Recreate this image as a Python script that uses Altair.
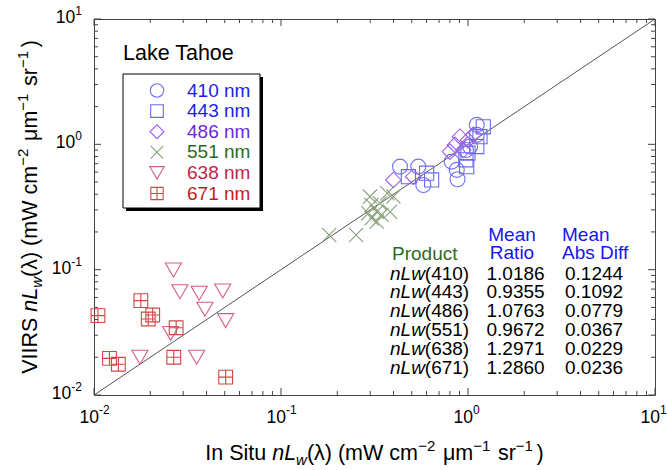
import altair as alt
import pandas as pd

# ---------------- data ----------------
bands = ["410 nm", "443 nm", "486 nm", "551 nm", "638 nm", "671 nm"]

x410 = [0.433, 0.542, 0.577, 0.818, 0.871, 0.879, 1.114, 1.114, 1.026, 0.975]
y410 = [0.664, 0.664, 0.474, 0.728, 0.625, 0.526, 1.43, 1.19, 0.96, 0.90]
x443 = [0.48, 0.601, 0.639, 0.984, 0.975, 1.207, 1.159, 1.114, 1.0]
y443 = [0.552, 0.588, 0.52, 0.664, 0.752, 1.38, 1.15, 0.96, 0.849]
x486 = [0.399, 0.509, 0.801, 0.852, 0.906, 1.0, 1.066, 0.944]
y486 = [0.52, 0.552, 0.875, 0.99, 1.15, 1.08, 1.19, 0.90]
x551 = [0.181, 0.252, 0.299, 0.305, 0.293, 0.305, 0.325, 0.338, 0.37, 0.383, 0.345, 0.399, 0.325]
y551 = [0.189, 0.189, 0.383, 0.328, 0.282, 0.257, 0.29, 0.339, 0.407, 0.29, 0.274, 0.383, 0.242]
x638 = [0.0266, 0.0288, 0.0365, 0.0488, 0.0392, 0.0506, 0.0257, 0.0176, 0.0354]
y638 = [0.0995, 0.0667, 0.0649, 0.0676, 0.0483, 0.0392, 0.031, 0.02, 0.02]
x671 = [0.0105, 0.0178, 0.0195, 0.0206, 0.0275, 0.0121, 0.0135, 0.0267, 0.0506]
y671 = [0.043, 0.0566, 0.0404, 0.0435, 0.0344, 0.0196, 0.0176, 0.02, 0.0139]

products = ["(410)", "(443)", "(486)", "(551)", "(638)", "(671)"]
ratios = ["1.0186", "0.9355", "1.0763", "0.9672", "1.2971", "1.2860"]
absdiffs = ["0.1244", "0.1092", "0.0779", "0.0367", "0.0229", "0.0236"]

major_ticks = [0.01, 0.1, 1, 10]
tick_exps = ["-2", "-1", "0", "1"]
minor_ticks = [m * d for d in [0.01, 0.1, 1] for m in range(2, 10)]

# ---------------- styles ----------------
FONT = "Liberation Sans"
W, H = 561, 376
OX, OY = 94, 19
marker_colors = ["#7070f2", "#6a6af0", "#9a60ee", "#86a07a", "#d65c84", "#d44646"]
text_colors = ["#1e1ee8", "#1e1ee8", "#6e26da", "#2e6a1e", "#c2224c", "#c21e1e"]
shapes = ["circle", "square", "diamond",
          "M-1,-1L1,1M-1,1L1,-1",
          "triangle-down",
          "M-1,-1H1V1H-1ZM0,-1V1M-1,0H1"]
sizes = [225, 200, 240, 200, 260, 190]

xs = alt.Scale(type="log", domain=[0.01, 10], nice=False)
ys = alt.Scale(type="log", domain=[0.01, 10], nice=False)

series = [(x410, y410), (x443, y443), (x486, y486), (x551, y551), (x638, y638), (x671, y671)]
layers = []

# 1:1 line
diag = pd.DataFrame({"x": [0.01, 10], "y": [0.01, 10]})
layers.append(alt.Chart(diag).mark_line(color="#555555", strokeWidth=1).encode(
    x=alt.X("x:Q", scale=xs, axis=None), y=alt.Y("y:Q", scale=ys, axis=None)))

# data points
for i, (xv, yv) in enumerate(series):
    df = pd.DataFrame({"x": xv, "y": yv})
    layers.append(alt.Chart(df).mark_point(
        shape=shapes[i], filled=False, size=sizes[i], strokeWidth=1.1,
        color=marker_colors[i], opacity=1).encode(
        x=alt.X("x:Q", scale=xs, axis=None), y=alt.Y("y:Q", scale=ys, axis=None)))

# inward ticks on all 4 sides
for vals, ln in [(major_ticks, 7), (minor_ticks, 4)]:
    tdf = pd.DataFrame({"v": vals})
    base = alt.Chart(tdf).mark_rule(color="#444444", strokeWidth=1)
    layers.append(base.encode(x=alt.X("v:Q", scale=xs, axis=None), y=alt.value(H), y2=alt.value(H - ln)))
    layers.append(base.encode(x=alt.X("v:Q", scale=xs, axis=None), y=alt.value(0), y2=alt.value(ln)))
    layers.append(base.encode(y=alt.Y("v:Q", scale=ys, axis=None), x=alt.value(0), x2=alt.value(ln)))
    layers.append(base.encode(y=alt.Y("v:Q", scale=ys, axis=None), x=alt.value(W), x2=alt.value(W - ln)))

# tick labels (10 with superscript exponent)
lab = pd.DataFrame({"v": major_ticks, "e": tick_exps, "neg": [True, True, False, False]})
layers.append(alt.Chart(lab).mark_text(font=FONT, fontSize=17.5, align="right", baseline="middle", dx=5, color="black").encode(
    x=alt.X("v:Q", scale=xs, axis=None), y=alt.value(H + 23), text=alt.value("10")))
layers.append(alt.Chart(lab).mark_text(font=FONT, fontSize=12, align="left", baseline="middle", dx=5, color="black").encode(
    x=alt.X("v:Q", scale=xs, axis=None), y=alt.value(H + 15), text="e:N"))
for neg, ew in [(True, 10.7), (False, 6.7)]:
    sub = lab[lab["neg"] == neg]
    layers.append(alt.Chart(sub).mark_text(font=FONT, fontSize=17.5, align="right", baseline="middle", dy=-1, color="black").encode(
        y=alt.Y("v:Q", scale=ys, axis=None), x=alt.value(-12 - ew), text=alt.value("10")))
    layers.append(alt.Chart(sub).mark_text(font=FONT, fontSize=12, align="right", baseline="middle", dy=-8, color="black").encode(
        y=alt.Y("v:Q", scale=ys, axis=None), x=alt.value(-12), text="e:N"))

# ---------------- helper for text pieces ----------------
CW = {" ": 278, "(": 333, ")": 333, "-": 333, "−": 760, "I": 278, "L": 556, "R": 722, "S": 667,
      "V": 667, "W": 944, "c": 500, "i": 222, "m": 833, "n": 556, "r": 333, "s": 500, "t": 278,
      "u": 556, "w": 722, "λ": 556, "μ": 576}


def tw(s, size):
    return sum(CW.get(ch, 556) for ch in s) * size / 1000.0


def note(text, x, y, **kw):
    kw.setdefault("font", FONT)
    kw.setdefault("color", "black")
    return alt.Chart(pd.DataFrame({"t": [text]})).mark_text(**kw).encode(
        x=alt.value(x), y=alt.value(y), text="t:N")


def seg_width(seg):
    t, s, it, dy, gap = seg
    return tw(t, s) + gap


def pieces(segs, x0, y0, angle=0):
    out = []
    cum = 0.0
    for seg in segs:
        t, s, it, dy, gap = seg
        kw = dict(fontSize=s, align="left", baseline="alphabetic", dx=cum, dy=dy)
        if it:
            kw["fontStyle"] = "italic"
        if angle:
            kw["angle"] = angle
        out.append(note(t, x0, y0, **kw))
        cum += seg_width(seg)
    return out


TS, SS = 21.5, 15


def title_segs(first):
    return [(first, TS, False, 0, 0), ("nL", TS, True, 0, 0), ("w", SS, True, 5, 0),
            ("(λ) (mW cm", TS, False, 0, -1), ("−2", SS, False, -9, 5), ("μm", TS, False, 0, 0),
            ("−1", SS, False, -9, 5), ("sr", TS, False, 0, 0), ("−1", SS, False, -9, 1),
            (")", TS, False, 0, 0)]


xsegs = title_segs("In Situ ")
xtot = sum(seg_width(s) for s in xsegs)
layers += pieces(xsegs, W / 2 - xtot / 2, 460 - OY)

ysegs = title_segs("VIIRS ")
ytot = sum(seg_width(s) for s in ysegs)
layers += pieces(ysegs, 37 - OX, H / 2 + ytot / 2, angle=270)

# ---------------- legend ----------------
bx0, by0, bx1, by1 = 123 - OX, 74 - OY, 260 - OX, 208 - OY
layers.append(alt.Chart(pd.DataFrame({"a": [0]})).mark_rect(color="black").encode(
    x=alt.value(bx0 + 3), x2=alt.value(bx1 + 3), y=alt.value(by0 + 3), y2=alt.value(by1 + 3)))
layers.append(alt.Chart(pd.DataFrame({"a": [0]})).mark_rect(fill="white", stroke="black", strokeWidth=1).encode(
    x=alt.value(bx0), x2=alt.value(bx1), y=alt.value(by0), y2=alt.value(by1)))
layers.append(note("Lake Tahoe", 123 - OX, 60 - OY, fontSize=21.5, align="left", baseline="alphabetic"))
for i, b in enumerate(bands):
    yy = 90.5 + 20.6 * i - OY
    layers.append(alt.Chart(pd.DataFrame({"a": [0]})).mark_point(
        shape=shapes[i], filled=False, size=sizes[i] * 0.8, strokeWidth=1.1, color=marker_colors[i], opacity=1).encode(
        x=alt.value(157 - OX), y=alt.value(yy)))
    layers.append(note(b, 187 - OX, yy, fontSize=19, align="left", baseline="middle", color=text_colors[i]))

# ---------------- statistics table ----------------
GREEN = "#2e6a1e"
BLUE = "#1616f0"
layers.append(note("Product", 392 - OX, 254 - OY, fontSize=19, align="left", baseline="middle", color=GREEN))
layers.append(note("Mean", 512 - OX, 235 - OY, fontSize=19, align="center", baseline="middle", color=BLUE))
layers.append(note("Ratio", 512 - OX, 253 - OY, fontSize=19, align="center", baseline="middle", color=BLUE))
layers.append(note("Mean", 562 - OX, 235 - OY, fontSize=19, align="left", baseline="middle", color=BLUE))
layers.append(note("Abs Diff", 562 - OX, 253 - OY, fontSize=19, align="left", baseline="middle", color=BLUE))
for i in range(6):
    yy = 273.5 + 18.8 * i - OY
    layers.append(note("nLw", 390 - OX, yy, fontSize=19, align="left", baseline="middle", fontStyle="italic"))
    layers.append(note(products[i], 390 - OX + tw("nLw", 19), yy, fontSize=19, align="left", baseline="middle"))
    layers.append(note(ratios[i], 486.5 - OX, yy, fontSize=19, align="left", baseline="middle"))
    layers.append(note(absdiffs[i], 565 - OX, yy, fontSize=19, align="left", baseline="middle"))

chart = alt.layer(*layers).properties(
    width=W, height=H,
    autosize=alt.AutoSizeParams(type="none"),
    padding={"left": OX, "top": OY, "right": 667 - OX - W, "bottom": 470 - OY - H},
    background="white",
).configure_view(stroke="#444444", strokeWidth=1)

chart.save("out.html", embed_options={"renderer": "svg", "actions": False})
